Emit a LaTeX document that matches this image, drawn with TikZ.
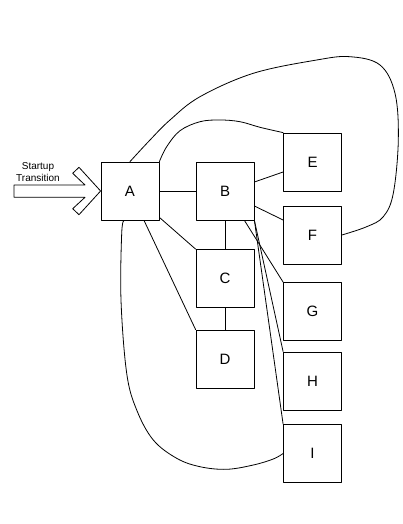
\documentclass[tikz,border=0pt]{standalone}
\usepackage{fontspec}
\setmainfont{Liberation Sans}
\usepackage{tikz}
\usetikzlibrary{positioning}

\begin{document}
\begin{tikzpicture}[x=1pt, y=-1pt, line width=0.8pt, line cap=round, line join=round,
    statebox/.style={draw, minimum size=58pt, inner sep=0pt, font=\fontsize{15}{18}\selectfont}]
        \useasboundingbox (0,0) rectangle (403,524);

        % states
        \node[statebox] (A) at (130,191) {A};
        \node[statebox] (B) at (225,191) {B};
        \node[statebox] (C) at (225,278.5) {C};
        \node[statebox] (D) at (225,359) {D};
        \node[statebox] (E) at (312.5,162) {E};
        \node[statebox] (F) at (312.5,235) {F};
        \node[statebox] (G) at (312.5,311.5) {G};
        \node[statebox] (H) at (312.5,381) {H};
        \node[statebox] (I) at (312.5,453.5) {I};

        % startup arrow
        \node[align=center, font=\fontsize{10}{12}\selectfont] (start) at (38,172) {Startup\\Transition};
        \draw (14,185) -- (85,185) -- (72.7,173.3) -- (79,167.3) -- (A.west)
            -- (79,214.7) -- (72.7,208.7) -- (85,197.3) -- (14,197.3) -- cycle;

        % straight transitions
        \draw (A.east) -- (B.west);
        \draw (B.south) -- (C.north);
        \draw (C.south) -- (D.north);
        \draw ([yshift=3pt]A.south east) -- (C.north west);
        \draw ([xshift=14pt]A.south) -- (D.north west);
        \draw ([yshift=9pt]B.east) -- ([yshift=-10pt]E.west);
        \draw ([yshift=-15pt]B.east) -- ([yshift=15pt]F.west);
        \draw ([xshift=-10pt]B.south east) -- (G.north west);
        \draw (B.south east) -- (H.north west);
        \draw (B.south east) -- (I.north west);

        % curved transitions
        \draw plot[smooth, tension=0.6] coordinates {(A.north) (150,140) (170,120) (200,96.7)
            (253.3,73.3) (316.7,60) (350,56.7) (380,65) (395,93.3) (398.3,140)
            (393.3,193.3) (383.3,216.7) (366.7,226.7) (F.east)};
        \draw plot[smooth, tension=0.6] coordinates {(A.north east) (166.7,146.7) (180,130.7)
            (200,121.7) (220,120) (240,121.7) (260,127.3) (E.north west)};
        \draw plot[smooth, tension=0.6] coordinates {([xshift=-6pt]A.south) (121.7,233.3)
            (121,300) (126.7,373.3) (136.7,410) (153.3,440) (176.7,458.3) (200,466.7)
            (226.7,469.3) (253.3,465) (273.3,459) (I.west)};
\end{tikzpicture}
\end{document}
